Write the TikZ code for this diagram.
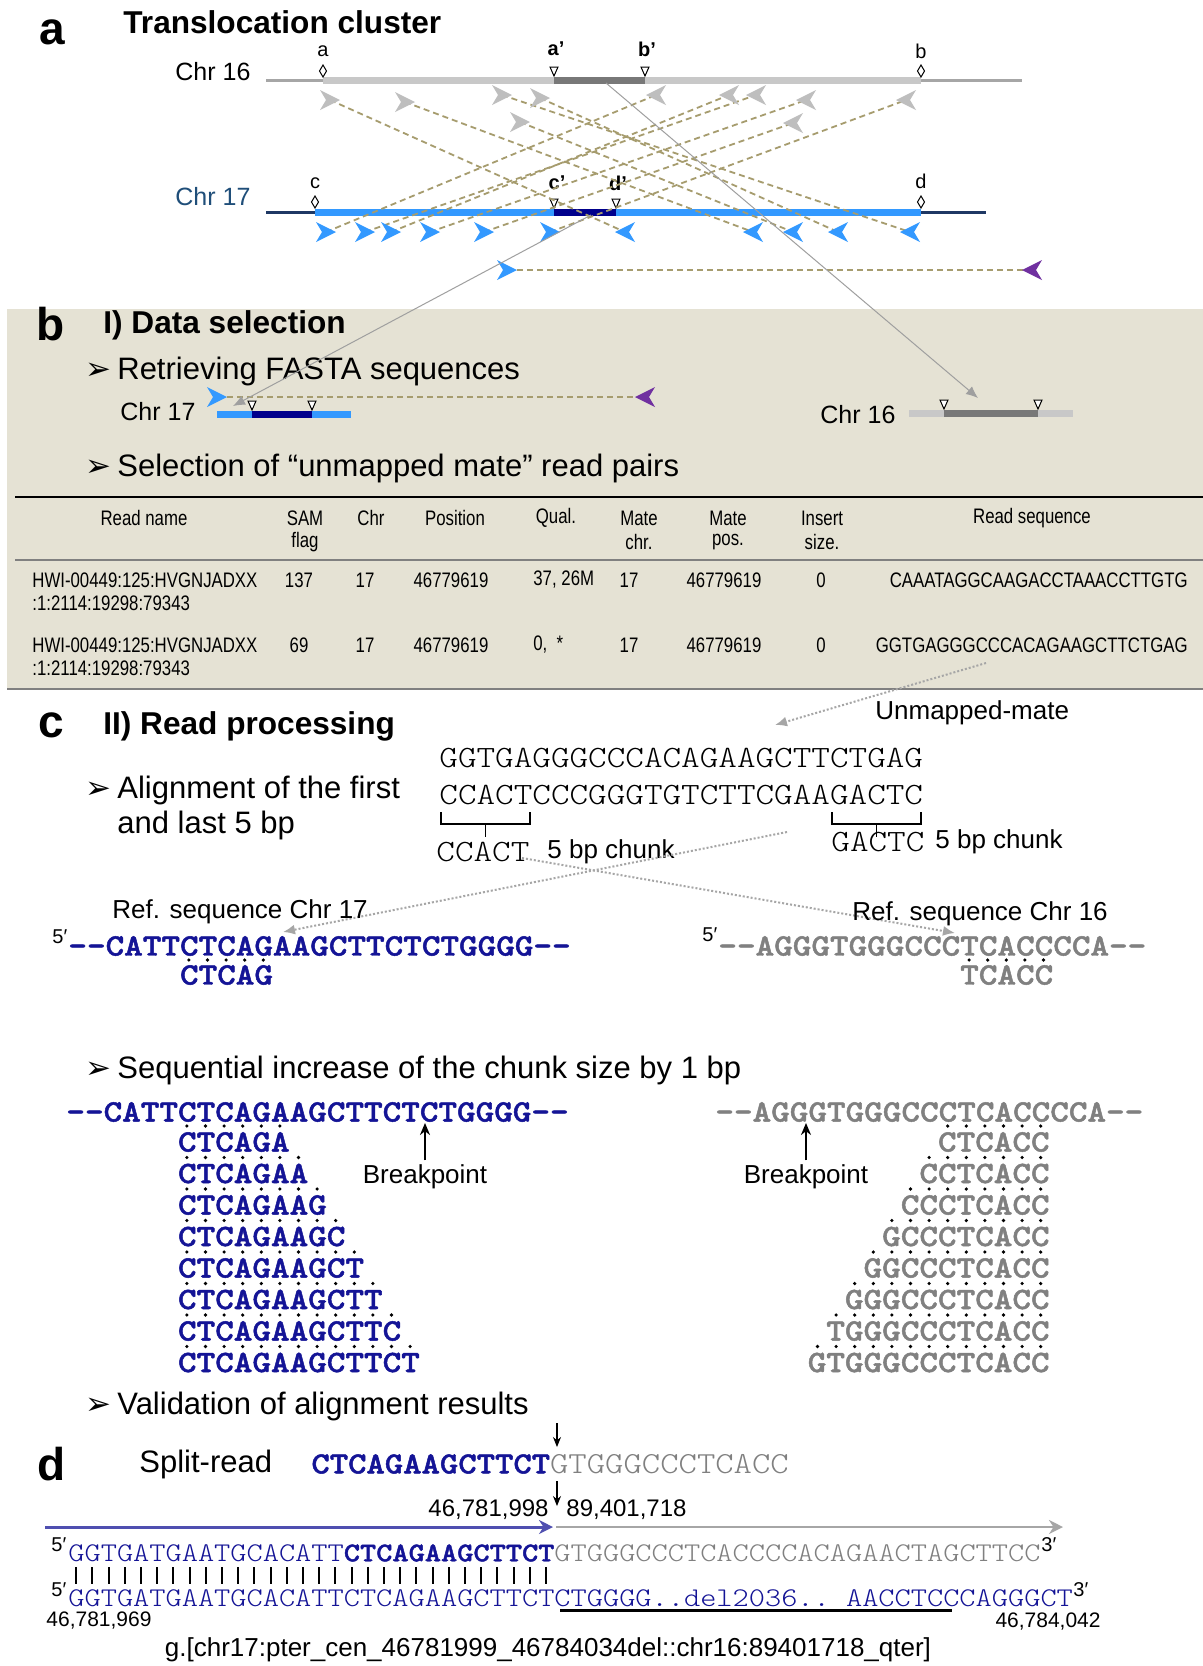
\documentclass[tikz,border=0pt]{standalone}
\usepackage{fontspec}
\setmainfont{Liberation Sans}
\setmonofont{lmmonolt10-regular.otf}[FakeStretch=1.143,BoldFont=lmmonolt10-bold.otf,BoldFeatures={FakeBold=1.6}]
\newfontfamily\narrowfont{Liberation Sans}[FakeStretch=0.8]
\newfontfamily\symfont{DejaVu Sans}
\usetikzlibrary{arrows.meta}

\definecolor{chrblue}{RGB}{51,153,255}
\definecolor{chrnavy}{RGB}{0,0,140}
\definecolor{chrline}{RGB}{31,56,100}
\definecolor{labblue}{RGB}{31,78,121}
\definecolor{chrgray}{RGB}{200,200,200}
\definecolor{chrthin}{RGB}{166,166,166}
\definecolor{chrdark}{RGB}{120,120,120}
\definecolor{chevgray}{RGB}{190,190,190}
\definecolor{pairtan}{RGB}{166,156,110}
\definecolor{matepurple}{RGB}{112,48,160}
\definecolor{panelbg}{RGB}{229,226,212}
\definecolor{seqblue}{RGB}{20,20,150}
\definecolor{seqgray}{RGB}{128,128,128}

\newcommand\fpanel{\fontsize{23}{26}\selectfont\bfseries}
\newcommand\ftitle{\fontsize{15.8}{18}\selectfont\bfseries}
\newcommand\fitem{\fontsize{15.5}{18}\selectfont}
\newcommand\fchr{\fontsize{12.5}{15}\selectfont}
\newcommand\flab{\fontsize{10}{12}\selectfont}
\newcommand\ftab{\narrowfont\fontsize{10.5}{12}\selectfont}
\newcommand\fnote{\fontsize{13}{15}\selectfont}
\newcommand\fnum{\fontsize{12}{14}\selectfont}
\newcommand\fsmall{\fontsize{10.5}{12}\selectfont}
\newcommand\fsup{\fontsize{10}{11}\selectfont}
\newcommand\fseq{\ttfamily\fontsize{15.5}{18}\selectfont}
\newcommand\fseqs{\ttfamily\fontsize{15.3}{18}\selectfont}
\newcommand\fseqd{\ttfamily\fontsize{13.5}{16}\selectfont}
\newcommand\bul{{\symfont\char"27A2}\hspace{3pt}}

\tikzset{
  txt/.style={inner sep=0pt},
  pics/rchev/.style={code={\fill[#1] (10,0) -- (-10,-10) -- (-4,0) -- (-10,10) -- cycle;}},
  pics/lchev/.style={code={\fill[#1] (-10,0) -- (10,-10) -- (4,0) -- (10,10) -- cycle;}},
  pics/diam/.style={code={\draw[line width=0.5pt,fill=white] (0,0) -- (3.5,-6) -- (0,-12) -- (-3.5,-6) -- cycle;}},
  pics/tri/.style={code={\draw[line width=0.5pt,fill=white] (0,0) -- (4,-9) -- (-4,-9) -- cycle;}},
  pairline/.style={pairtan, line width=0.9pt, dash pattern=on 3pt off 2pt},
  conn/.style={gray!75, line width=0.5pt, -{Latex[length=6pt,width=5pt]}},
  dotconn/.style={gray!70, line width=1pt, densely dotted, -{Latex[length=6pt,width=5pt]}},
  bparrow/.style={line width=1pt, -{Stealth[length=6pt,width=5pt]}},
  downarrow/.style={line width=0.6pt, -{Stealth[length=5pt,width=4pt]}},
}

\begin{document}
\begin{tikzpicture}[x=0.5pt,y=-0.5pt]
\fill[white] (0,0) rectangle (1203,1666);
\useasboundingbox (0,0) rectangle (1203,1666);

% panel b background
\fill[panelbg] (7,309) rectangle (1203,689);

% panel a
\node[txt,font=\fpanel] (pa) at (52,32) {a};
\node[txt,font=\ftitle,anchor=west] (ta) at (123,22) {Translocation cluster};
\node[txt,font=\fchr,anchor=west] (c16) at (175,72) {Chr 16};
\node[txt,font=\fchr,anchor=west,text=labblue] (c17) at (175,197) {Chr 17};

% chr 16
\draw[line width=1.5pt,chrthin] (266,80) -- (1022,80);
\draw[line width=3.5pt,chrgray] (323,80) -- (921,80);
\draw[line width=3.5pt,chrdark] (554,80) -- (645,80);
\pic at (323,77) {diam};
\pic at (921,77) {diam};
\pic at (554,76) {tri};
\pic at (645,76) {tri};
\node[txt,font=\flab] (la) at (323,51) {a};
\node[txt,font=\flab] (lb) at (921,51) {b};
\node[txt,font=\flab\bfseries] (la2) at (556,49) {a’};
\node[txt,font=\flab\bfseries] (lb2) at (647,49) {b’};

% chr 17
\draw[line width=1.5pt,chrline] (266,212) -- (986,212);
\draw[line width=3.5pt,chrblue] (315,212) -- (921,212);
\draw[line width=3.5pt,chrnavy] (554,212) -- (616,212);
\pic at (315,208) {diam};
\pic at (921,208) {diam};
\pic at (554,208) {tri};
\pic at (616,208) {tri};
\node[txt,font=\flab] (lc) at (315,183) {c};
\node[txt,font=\flab] (ld) at (921,181) {d};
\node[txt,font=\flab\bfseries] (lc2) at (557,183) {c’};
\node[txt,font=\flab\bfseries] (ld2) at (618,183) {d’};

% read pairs
\foreach \n/\x/\y in {1/330/100, 2/405/102, 3/502/95, 4/540/98, 5/520/122}
  \coordinate (gr\n) at (\x,\y);
\foreach \n/\x/\y in {1/656/95, 2/729/95, 3/756/95, 4/806/100, 5/906/100, 6/793/123}
  \coordinate (gl\n) at (\x,\y);
\foreach \n/\x in {1/326, 2/365, 3/391, 4/430, 5/484, 6/550}
  \coordinate (br\n) at (\x,232);
\foreach \n/\x in {1/625, 2/753, 3/793, 4/838, 5/910}
  \coordinate (bl\n) at (\x,232);
\coordinate (mr) at (507,270);
\coordinate (ml) at (1032,270);

\foreach \a/\b in {gr1/bl1, gr2/bl2, gr3/bl5, gr4/bl4, gr5/bl3,
                   br1/gl1, br2/gl3, br3/gl2, br4/gl4, br5/gl6, br6/gl5, mr/ml}
  \draw[pairline] (\a) -- (\b);

\foreach \n in {1,...,5} \pic at (gr\n) {rchev=chevgray};
\foreach \n in {1,...,6} \pic at (gl\n) {lchev=chevgray};
\foreach \n in {1,...,6} \pic at (br\n) {rchev=chrblue};
\foreach \n in {1,...,5} \pic at (bl\n) {lchev=chrblue};
\pic at (mr) {rchev=chrblue};
\pic at (ml) {lchev=matepurple};

% panel b
\node[txt,font=\fpanel] (pb) at (51,324) {b};
\node[txt,font=\ftitle,anchor=west] (tb) at (103,325) {I) Data selection};
\node[txt,font=\fitem,anchor=west] (it1) at (85,371) {\bul Retrieving FASTA sequences};

\node[txt,font=\fchr,anchor=west] (m17) at (120,412) {Chr 17};
\draw[line width=3.5pt,chrblue] (217,414) -- (351,414);
\draw[line width=3.5pt,chrnavy] (252,414) -- (312,414);
\pic at (252,410) {tri};
\pic at (312,410) {tri};
\coordinate (mbr) at (217,397);
\coordinate (mbl) at (645,397);
\draw[pairline] (mbr) -- (mbl);
\pic at (mbr) {rchev=chrblue};
\pic at (mbl) {lchev=matepurple};

\node[txt,font=\fchr,anchor=west] (m16) at (820,415) {Chr 16};
\draw[line width=3.5pt,chrgray] (909,413) -- (1073,413);
\draw[line width=3.5pt,chrdark] (944,413) -- (1038,413);
\pic at (944,409) {tri};
\pic at (1038,409) {tri};

% long connectors
\coordinate (s16) at (606,83);
\coordinate (t16) at (978,398);
\coordinate (s17) at (591,215);
\coordinate (t17) at (233,406);
\draw[conn] (s16) -- (t16);
\draw[conn] (s17) -- (t17);

\node[txt,font=\fitem,anchor=west] (it2) at (85,468) {\bul Selection of “unmapped mate” read pairs};

% table
\draw[line width=1pt] (15,497) -- (1203,497);
\draw[line width=1pt,gray] (15,560) -- (1203,560);
\draw[line width=1pt,gray] (7,689) -- (1203,689);
\foreach \x/\t [count=\i] in {144/Read name, 305/SAM, 371/Chr, 455/Position, 556/Qual.,
                              639/Mate, 728/Mate, 822/Insert, 1032/Read sequence}
  \node[txt,font=\ftab] (h\i) at (\x,518) {\t};
\foreach \x/\t [count=\i] in {305/flag, 639/chr., 728/pos., 822/size.}
  \node[txt,font=\ftab] (hh\i) at (\x,542) {\t};
\foreach \y/\f/\q/\s [count=\i] in {580/137/{37, 26M}/CAAATAGGCAAGACCTAAACCTTGTG,
                                    645/69/{0,\ \ *}/GGTGAGGGCCCACAGAAGCTTCTGAG}{
  \node[txt,font=\ftab,anchor=west] (rn\i) at (32,\y) {HWI-00449:125:HVGNJADXX};
  \node[txt,font=\ftab,anchor=west] (rm\i) at (32,\y+23) {:1:2114:19298:79343};
  \node[txt,font=\ftab] (sf\i) at (299,\y) {\f};
  \node[txt,font=\ftab] (ch\i) at (365,\y) {17};
  \node[txt,font=\ftab] (po\i) at (451,\y) {46779619};
  \node[txt,font=\ftab,anchor=west] (qu\i) at (533,\y) {\q};
  \node[txt,font=\ftab] (mc\i) at (629,\y) {17};
  \node[txt,font=\ftab] (mp\i) at (724,\y) {46779619};
  \node[txt,font=\ftab] (is\i) at (821,\y) {0};
  \node[txt,font=\ftab,anchor=east] (rs\i) at (1188,\y) {\s};
}

% panel c
\node[txt,font=\fpanel] (pc) at (51,725) {c};
\node[txt,font=\ftitle,anchor=west] (tc) at (103,726) {II) Read processing};
\node[txt,font=\fnote,anchor=west] (um) at (875,713) {Unmapped-mate};
\coordinate (ums) at (986,663);
\coordinate (umt) at (775,725);
\draw[dotconn] (ums) -- (umt);

\node[txt,font=\fitem,anchor=west] (al1) at (85,790) {\bul Alignment of the first};
\node[txt,font=\fitem,anchor=west] (al2) at (117,825) {and last 5 bp};
\node[txt,font=\fseq,anchor=west] (rd) at (439,758) {GGTGAGGGCCCACAGAAGCTTCTGAG};
\node[txt,font=\fseq,anchor=west] (rc) at (439,795) {CCACTCCCGGGTGTCTTCGAAGACTC};
\draw[line width=0.8pt] (441,812) -- (441,824) -- (530,824) -- (530,812);
\draw[line width=0.8pt] (485.5,824) -- (485.5,837);
\draw[line width=0.8pt] (832,812) -- (832,824) -- (921,824) -- (921,812);
\draw[line width=0.8pt] (876.5,824) -- (876.5,837);
\node[txt,font=\fseq,anchor=west] (k1) at (436,852) {CCACT};
\node[txt,font=\fnote,anchor=west] (k1t) at (547,852) {5 bp chunk};
\node[txt,font=\fseq,anchor=west] (k2) at (831,842) {GACTC};
\node[txt,font=\fnote,anchor=west] (k2t) at (935,842) {5 bp chunk};

\coordinate (x1s) at (787,832);
\coordinate (x1t) at (283,932);
\coordinate (x2s) at (522,858);
\coordinate (x2t) at (955,933);
\draw[dotconn] (x1s) -- (x1t);
\draw[dotconn] (x2s) -- (x2t);

\node[txt,font=\fnote,anchor=west] (rf17) at (112,912) {Ref. sequence Chr 17};
\node[txt,font=\fsup,anchor=west] (p17) at (52,937) {5′};
\node[txt,font=\fseq\bfseries,text=seqblue,anchor=west] (q17) at (68,946) {-{}-CATTCTCAGAAGCTTCTCTGGGG-{}-};
\foreach \j in {1,...,5} \fill (68+18.6*5.5+18.6*\j,960) circle[radius=1.8];
\node[txt,font=\fseq\bfseries,text=seqblue,anchor=west] (c5a) at (179.6,975) {CTCAG};

\node[txt,font=\fnote,anchor=west] (rf16) at (852,914) {Ref. sequence Chr 16};
\node[txt,font=\fsup,anchor=west] (p16) at (702,935) {5′};
\node[txt,font=\fseq\bfseries,text=seqgray,anchor=west] (q16) at (718,946) {-{}-AGGGTGGGCCCTCACCCCA-{}-};
\foreach \j in {1,...,5} \fill (718+18.6*12.5+18.6*\j,960) circle[radius=1.8];
\node[txt,font=\fseq\bfseries,text=seqgray,anchor=west] (c5b) at (959.8,975) {TCACC};

% sequential increase
\node[txt,font=\fitem,anchor=west] (it3) at (85,1070) {\bul Sequential increase of the chunk size by 1 bp};
\node[txt,font=\fseq\bfseries,text=seqblue,anchor=west] (sq17) at (66,1112) {-{}-CATTCTCAGAAGCTTCTCTGGGG-{}-};
\node[txt,font=\fseq\bfseries,text=seqgray,anchor=west] (sq16) at (715,1112) {-{}-AGGGTGGGCCCTCACCCCA-{}-};
\foreach \k/\s in {1/CTCAGA, 2/CTCAGAA, 3/CTCAGAAG, 4/CTCAGAAGC, 5/CTCAGAAGCT,
                   6/CTCAGAAGCTT, 7/CTCAGAAGCTTC, 8/CTCAGAAGCTTCT}{
  \pgfmathsetmacro\ry{1142+(\k-1)*31.5}
  \pgfmathtruncatemacro\n{5+\k}
  \node[txt,font=\fseq\bfseries,text=seqblue,anchor=west] (l\k) at (177.6,\ry) {\s};
  \foreach \j in {1,...,\n} \fill (66+18.6*5.5+18.6*\j,\ry-16) circle[radius=1.8];
}
\foreach \k/\s in {1/CTCACC, 2/CCTCACC, 3/CCCTCACC, 4/GCCCTCACC, 5/GGCCCTCACC,
                   6/GGGCCCTCACC, 7/TGGGCCCTCACC, 8/GTGGGCCCTCACC}{
  \pgfmathsetmacro\ry{1142+(\k-1)*31.5}
  \pgfmathtruncatemacro\n{5+\k}
  \node[txt,font=\fseq\bfseries,text=seqgray,anchor=east] (r\k) at (1050,\ry) {\s};
  \foreach \j in {1,...,\n} \fill (1059.3-18.6*\j,\ry-16) circle[radius=1.8];
}
\node[txt,font=\fnote] (bpl) at (425,1177) {Breakpoint};
\coordinate (bplt) at (425,1123);
\draw[bparrow] ([yshift=2pt]bpl.north) -- (bplt);
\node[txt,font=\fnote] (bpr) at (806,1177) {Breakpoint};
\coordinate (bprt) at (806,1123);
\draw[bparrow] ([yshift=2pt]bpr.north) -- (bprt);

\node[txt,font=\fitem,anchor=west] (it4) at (85,1406) {\bul Validation of alignment results};

% panel d
\node[txt,font=\fpanel] (pd) at (52,1464) {d};
\node[txt,font=\fitem,anchor=west] (sr) at (139,1464) {Split-read};
\node[txt,font=\fseqs,anchor=west] (srs) at (311,1464) {{\bfseries\color{seqblue}CTCAGAAGCTTCT}{\color{seqgray}GTGGGCCCTCACC}};
\coordinate (da1) at (557,1423);
\coordinate (da2) at (557,1447);
\draw[downarrow] (da1) -- (da2);
\coordinate (da3) at (557,1481);
\coordinate (da4) at (557,1506);
\draw[downarrow] (da3) -- (da4);
\node[txt,font=\fnum,anchor=east] (n1) at (549,1510) {46,781,998};
\node[txt,font=\fnum,anchor=west] (n2) at (566,1510) {89,401,718};

\coordinate (ba0) at (45,1527);
\coordinate (ba1) at (553,1527);
\coordinate (ga0) at (556,1527);
\coordinate (ga1) at (1063,1527);
\draw[line width=1.5pt,seqblue!75,-{Stealth[length=7pt,width=7pt]}] (ba0) -- (ba1);
\draw[line width=1.2pt,gray!70,-{Stealth[length=7pt,width=7pt]}] (ga0) -- (ga1);

\node[txt,font=\fsup,anchor=west] (d5a) at (51,1545) {5′};
\node[txt,font=\fseqd,anchor=west] (dq1) at (68,1553) {{\color{seqblue}GGTGATGAATGCACATT\bfseries CTCAGAAGCTTCT}{\color{seqgray}GTGGGCCCTCACCCCACAGAACTAGCTTCC}};
\node[txt,font=\fsup,anchor=west] (d3a) at (1041,1545) {3′};
\foreach \j in {0,...,29} \draw[line width=1pt] (76.1+16.2*\j,1567) -- (76.1+16.2*\j,1584);
\node[txt,font=\fsup,anchor=west] (d5b) at (51,1590) {5′};
\node[txt,font=\fseqd,text=seqblue,anchor=west] (dq2) at (68,1598) {GGTGATGAATGCACATTCTCAGAAGCTTCTCTGGGG..del2036.. AACCTCCCAGGGCT};
\node[txt,font=\fsup,anchor=west] (d3b) at (1073,1590) {3′};
\draw[line width=1.5pt] (560,1610) -- (952,1610);
\node[txt,font=\fsmall,anchor=west] (n3) at (46,1620) {46,781,969};
\node[txt,font=\fsmall,anchor=east] (n4) at (1101,1621) {46,784,042};
\node[txt,font=\fnote] (hgvs) at (548,1650) {g.[chr17:pter\_cen\_46781999\_46784034del::chr16:89401718\_qter]};
\end{tikzpicture}
\end{document}
